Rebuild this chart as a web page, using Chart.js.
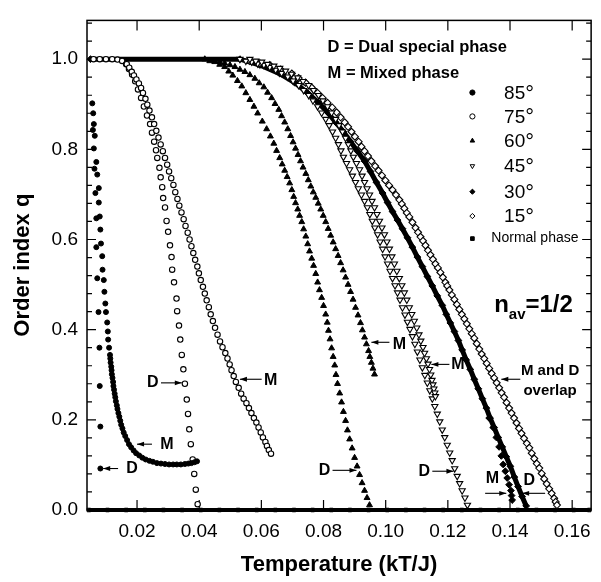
<!DOCTYPE html>
<html>
<head>
<meta charset="utf-8">
<style>
  html, body { margin: 0; padding: 0; background: #fff; }
  #grafico { display: block; }
</style>
</head>
<body>
<canvas id="grafico" width="601" height="582"></canvas>
<script src="https://cdn.jsdelivr.net/npm/chart.js@4.4.1/dist/chart.umd.min.js"></script>
<script>
// tick values
const xTicks = [0.02, 0.04, 0.06, 0.08, 0.10, 0.12, 0.14, 0.16];
const yTicks = [0.0, 0.2, 0.4, 0.6, 0.8, 1.0];
const yMinor = [0.04,0.08,0.12,0.16,0.24,0.28,0.32,0.36,0.44,0.48,0.52,0.56,0.64,0.68,0.72,0.76,0.84,0.88,0.92,0.96,1.04,1.08];

// 85 deg: scattered points, then the M branch
const t85 = [0.0056,0.0059,0.0061,0.0058,0.0064,0.0061,0.0069,0.0063,0.0072,0.0077,0.0066,0.0077,0.0080,0.0069,0.0082,0.0084,0.0069,0.0088,0.0089,0.0072,0.0093,0.0095,0.0098,0.0076,0.0100,0.0104,0.0106,0.0107,0.0079,0.0110,0.0080,0.0082,0.0082];
const q85 = [0.902,0.880,0.856,0.843,0.830,0.802,0.772,0.757,0.744,0.714,0.703,0.682,0.651,0.647,0.622,0.591,0.583,0.563,0.533,0.514,0.510,0.484,0.458,0.439,0.439,0.416,0.396,0.378,0.360,0.360,0.275,0.185,0.092];
const t85m = [0.0113,0.0114,0.0115,0.0117,0.0118,0.0119,0.0121,0.0123,0.0124,0.0126,0.0128,0.0130,0.0132,0.0135,0.0137,0.0140,0.0143,0.0146,0.0149,0.0153,0.0157,0.0162,0.0168,0.0174,0.0181,0.0189,0.0197,0.0207,0.0217,0.0228,0.0240,0.0251,0.0264,0.0277,0.0290,0.0303,0.0316,0.0328,0.0341,0.0354,0.0365,0.0375,0.0385,0.0393];
const q85m = [0.344,0.336,0.327,0.318,0.310,0.301,0.293,0.284,0.275,0.267,0.258,0.250,0.241,0.232,0.224,0.215,0.207,0.198,0.189,0.181,0.172,0.164,0.155,0.146,0.139,0.132,0.126,0.121,0.116,0.112,0.109,0.107,0.104,0.103,0.102,0.101,0.101,0.101,0.101,0.102,0.103,0.104,0.106,0.108];

// 75 deg
const t75d = [0.006,0.008,0.010,0.012,0.0137,0.0152,0.0165,0.0174,0.0184,0.0194,0.0203,0.0213,0.0222,0.0232,0.0242,0.0248,0.0255,0.0261,0.0265,0.0272,0.0276,0.0281,0.0284,0.0290,0.0295,0.0300,0.0306,0.0311,0.0313,0.0319,0.0327,0.0329,0.0335,0.0339,0.0344,0.0349,0.0354,0.0360,0.0364,0.0368,0.0373,0.0379,0.0384,0.0389,0.0395];
const q75d = [1.0,1.0,1.0,1.0,0.999,0.996,0.989,0.978,0.966,0.951,0.933,0.914,0.895,0.875,0.856,0.837,0.817,0.798,0.781,0.759,0.738,0.716,0.692,0.671,0.641,0.617,0.587,0.561,0.533,0.505,0.469,0.441,0.409,0.378,0.344,0.312,0.280,0.245,0.213,0.179,0.146,0.112,0.080,0.045,0.013];
const t75m = [0.0167,0.0175,0.0183,0.0190,0.0198,0.0206,0.0213,0.0219,0.0227,0.0233,0.0240,0.0248,0.0255,0.0262,0.0269,0.0276,0.0283,0.0290,0.0297,0.0303,0.0310,0.0317,0.0323,0.0330,0.0336,0.0343,0.0350,0.0356,0.0363,0.0369,0.0375,0.0381,0.0387,0.0394,0.0399,0.0405,0.0412,0.0418,0.0424,0.0431,0.0437,0.0444,0.0451,0.0459,0.0467,0.0475,0.0484,0.0491,0.0498,0.0504,0.0511,0.0518,0.0527,0.0535,0.0543,0.0552,0.0560,0.0568,0.0576,0.0584,0.0591,0.0598,0.0605,0.0613,0.0618,0.0624,0.0631];
const q75m = [0.989,0.981,0.972,0.964,0.955,0.946,0.936,0.925,0.912,0.899,0.886,0.871,0.856,0.841,0.826,0.811,0.796,0.781,0.766,0.751,0.736,0.721,0.705,0.690,0.675,0.660,0.645,0.630,0.615,0.600,0.585,0.570,0.555,0.540,0.525,0.510,0.495,0.480,0.465,0.450,0.434,0.419,0.404,0.389,0.374,0.361,0.348,0.336,0.323,0.310,0.297,0.284,0.271,0.258,0.247,0.237,0.226,0.215,0.204,0.194,0.183,0.172,0.161,0.151,0.142,0.133,0.125];

// 60 deg
const t60d = [0.0418,0.0434,0.0450,0.0466,0.0482,0.0495,0.0508,0.0523,0.0537,0.0550,0.0563,0.0576,0.0588,0.0603,0.0617,0.0629,0.0640,0.0649,0.0659,0.0667,0.0675,0.0683,0.0691,0.0698,0.0704,0.0710,0.0717,0.0723,0.0730,0.0736,0.0743,0.0749,0.0755,0.0762,0.0768,0.0775,0.0781,0.0787,0.0794,0.0800,0.0807,0.0812,0.0816,0.0821,0.0826,0.0831,0.0836,0.0840,0.0845,0.0852,0.0858,0.0864,0.0871,0.0877,0.0884,0.0892,0.0900,0.0908,0.0916,0.0924,0.0932,0.0940,0.0948];
const q60d = [1.0,0.996,0.994,0.988,0.983,0.973,0.964,0.952,0.940,0.925,0.910,0.895,0.880,0.862,0.845,0.829,0.813,0.797,0.781,0.767,0.753,0.739,0.725,0.710,0.695,0.681,0.667,0.653,0.639,0.623,0.607,0.590,0.574,0.558,0.542,0.524,0.505,0.488,0.471,0.453,0.434,0.416,0.398,0.379,0.359,0.340,0.321,0.300,0.280,0.259,0.239,0.218,0.198,0.177,0.157,0.137,0.116,0.097,0.078,0.060,0.043,0.027,0.011];
const t60m = [0.0450,0.0466,0.0482,0.0499,0.0515,0.0531,0.0547,0.0563,0.0579,0.0593,0.0608,0.0620,0.0633,0.0644,0.0656,0.0665,0.0675,0.0685,0.0694,0.0702,0.0710,0.0718,0.0726,0.0734,0.0743,0.0751,0.0759,0.0767,0.0775,0.0783,0.0791,0.0799,0.0807,0.0815,0.0823,0.0831,0.0839,0.0847,0.0855,0.0863,0.0871,0.0879,0.0887,0.0895,0.0903,0.0911,0.0919,0.0925,0.0932,0.0938,0.0945,0.0949,0.0954,0.0959,0.0964];
const q60m = [0.996,0.994,0.991,0.987,0.983,0.977,0.972,0.965,0.957,0.947,0.938,0.926,0.914,0.901,0.888,0.874,0.860,0.845,0.830,0.816,0.802,0.788,0.774,0.760,0.746,0.732,0.718,0.705,0.693,0.680,0.667,0.653,0.639,0.624,0.609,0.594,0.579,0.564,0.548,0.532,0.516,0.500,0.484,0.467,0.449,0.432,0.415,0.399,0.383,0.368,0.353,0.340,0.327,0.314,0.301];

// 45 deg
const t45d = [0.0531,0.0550,0.0569,0.0588,0.0608,0.0627,0.0646,0.0665,0.0685,0.0702,0.0720,0.0736,0.0752,0.0766,0.0781,0.0794,0.0807,0.0818,0.0829,0.0839,0.0848,0.0856,0.0864,0.0874,0.0884,0.0893,0.0903,0.0912,0.0922,0.0932,0.0941,0.0949,0.0957,0.0965,0.0974,0.0982,0.0990,0.0998,0.1006,0.1014,0.1022,0.1030,0.1038,0.1046,0.1054,0.1062,0.1070,0.1078,0.1086,0.1094,0.1102,0.1110,0.1118,0.1126,0.1134,0.1142,0.1150,0.1158,0.1166,0.1174,0.1182,0.1190,0.1198,0.1206,0.1214,0.1222,0.1230,0.1238,0.1246,0.1255,0.1263];
const q45d = [1.0,0.996,0.994,0.990,0.987,0.982,0.976,0.969,0.961,0.952,0.942,0.931,0.920,0.908,0.895,0.881,0.867,0.853,0.839,0.825,0.811,0.797,0.783,0.769,0.755,0.741,0.727,0.713,0.699,0.685,0.671,0.656,0.641,0.626,0.611,0.595,0.579,0.562,0.546,0.530,0.514,0.498,0.482,0.466,0.449,0.433,0.417,0.401,0.385,0.368,0.351,0.333,0.316,0.299,0.282,0.265,0.247,0.230,0.213,0.196,0.178,0.161,0.144,0.127,0.110,0.092,0.075,0.059,0.043,0.027,0.011];
const t45m = [0.0563,0.0582,0.0601,0.0620,0.0640,0.0659,0.0678,0.0697,0.0717,0.0734,0.0752,0.0768,0.0784,0.0798,0.0813,0.0826,0.0839,0.0850,0.0861,0.0871,0.0880,0.0888,0.0896,0.0906,0.0916,0.0924,0.0932,0.0940,0.0948,0.0956,0.0964,0.0972,0.0980,0.0988,0.0996,0.1004,0.1012,0.1020,0.1028,0.1036,0.1044,0.1052,0.1060,0.1068,0.1076,0.1084,0.1092,0.1100,0.1107,0.1113,0.1120,0.1125,0.1131,0.1136,0.1141,0.1145,0.1149,0.1152,0.1155,0.1158,0.1160];
const q45m = [1.0,0.996,0.994,0.989,0.985,0.980,0.974,0.967,0.959,0.951,0.942,0.931,0.920,0.908,0.895,0.881,0.867,0.853,0.839,0.825,0.811,0.797,0.783,0.769,0.755,0.741,0.727,0.713,0.699,0.685,0.671,0.656,0.641,0.626,0.611,0.595,0.579,0.562,0.546,0.530,0.514,0.498,0.482,0.466,0.449,0.434,0.419,0.404,0.389,0.375,0.361,0.348,0.336,0.324,0.312,0.300,0.288,0.278,0.269,0.260,0.252];

// 30 deg (thick band) and its M tail
const t30 = [0.0050,0.0531,0.0595,0.0659,0.0707,0.0749,0.0784,0.0813,0.0839,0.0864,0.0887,0.0909,0.0932,0.0951,0.0970,0.0990,0.1006,0.1022,0.1038,0.1054,0.1070,0.1086,0.1102,0.1118,0.1134,0.1150,0.1166,0.1182,0.1195,0.1208,0.1221,0.1234,0.1246,0.1259,0.1272,0.1285,0.1298,0.1311,0.1324,0.1336,0.1349,0.1362,0.1375,0.1388,0.1401,0.1414,0.1426,0.1439,0.1452];
const q30 = [1.0,1.0,0.987,0.968,0.948,0.925,0.903,0.882,0.860,0.839,0.817,0.796,0.774,0.751,0.727,0.703,0.682,0.662,0.643,0.624,0.604,0.583,0.561,0.540,0.518,0.497,0.475,0.454,0.434,0.415,0.396,0.376,0.355,0.333,0.312,0.290,0.269,0.247,0.226,0.204,0.183,0.161,0.140,0.118,0.097,0.073,0.052,0.030,0.009];
const t30m = [0.1333,0.1346,0.1356,0.1365,0.1372,0.1378,0.1385,0.1391,0.1397,0.1403,0.1405,0.1407];
const q30m = [0.204,0.183,0.161,0.140,0.120,0.101,0.086,0.071,0.056,0.043,0.032,0.022];

// 15 deg (M and D overlap)
const t15 = [0.0563,0.0595,0.0627,0.0662,0.0698,0.0720,0.0742,0.0762,0.0781,0.0797,0.0813,0.0828,0.0842,0.0855,0.0868,0.0879,0.0890,0.0901,0.0913,0.0922,0.0932,0.0943,0.0954,0.0966,0.0977,0.0988,0.0999,0.1011,0.1022,0.1033,0.1044,0.1052,0.1060,0.1068,0.1076,0.1086,0.1096,0.1104,0.1112,0.1120,0.1128,0.1136,0.1144,0.1152,0.1160,0.1168,0.1176,0.1184,0.1192,0.1198,0.1205,0.1213,0.1221,0.1229,0.1237,0.1245,0.1253,0.1261,0.1269,0.1277,0.1285,0.1293,0.1301,0.1309,0.1317,0.1325,0.1333,0.1341,0.1349,0.1357,0.1365,0.1373,0.1381,0.1389,0.1397,0.1405,0.1413,0.1421,0.1429,0.1437,0.1445,0.1454,0.1462,0.1470,0.1478,0.1486,0.1494,0.1502,0.1510,0.1518,0.1526,0.1534,0.1542,0.1547,0.1551];
const q15 = [0.996,0.991,0.987,0.977,0.968,0.958,0.948,0.937,0.925,0.914,0.903,0.893,0.882,0.871,0.860,0.850,0.839,0.828,0.817,0.806,0.796,0.785,0.774,0.763,0.753,0.742,0.731,0.720,0.710,0.699,0.688,0.679,0.669,0.659,0.650,0.638,0.626,0.616,0.606,0.597,0.587,0.576,0.566,0.556,0.546,0.537,0.527,0.516,0.505,0.497,0.488,0.477,0.467,0.456,0.445,0.434,0.424,0.413,0.402,0.391,0.381,0.369,0.357,0.346,0.336,0.325,0.314,0.303,0.293,0.282,0.271,0.260,0.250,0.238,0.226,0.215,0.204,0.193,0.181,0.170,0.159,0.148,0.138,0.126,0.114,0.103,0.093,0.081,0.069,0.058,0.047,0.037,0.026,0.018,0.011];

// normal phase (q = 0)
const tNormal = [0.0045,0.0105,0.0165,0.0225,0.0285,0.0345,0.0405,0.0465,0.0525,0.0585,0.0645,0.0705,0.0765,0.0825,0.0885,0.0945,0.1005,0.1065,0.1125,0.1185,0.1245,0.1305,0.1365,0.1425,0.1485,0.1545,0.1605,0.1655];
const qNormal = [0,0,0,0,0,0,0,0,0,0,0,0,0,0,0,0,0,0,0,0,0,0,0,0,0,0,0,0];

const FONT = '"Liberation Sans", Arial, sans-serif';

function pts(t, q) {
  return t.map((v, i) => ({ x: v, y: q[i] }));
}

const filled = { backgroundColor: '#000', borderColor: '#000', pointBorderWidth: 1 };
const hollow = { backgroundColor: '#fff', borderColor: '#000', pointBorderWidth: 1.1 };

function serie(label, data, style, shape, radius, extra) {
  return Object.assign({
    label: label,
    data: data,
    pointStyle: shape,
    pointRadius: radius,
    pointBackgroundColor: style.backgroundColor,
    pointBorderColor: style.borderColor,
    pointBorderWidth: style.pointBorderWidth,
    borderColor: '#000',
    backgroundColor: style.backgroundColor,
    showLine: false,
    clip: false
  }, extra || {});
}

// first dataset is drawn on top
const datasets = [
  serie('85°', pts(t85.concat(t85m), q85.concat(q85m)), filled, 'circle', 2.5),
  serie('75° M', pts(t75m, q75m), hollow, 'circle', 2.7),
  serie('75° D', pts(t75d, q75d), hollow, 'circle', 2.7),
  serie('60° M', pts(t60m, q60m), filled, 'triangle', 3.4),
  serie('60° D', pts(t60d, q60d), filled, 'triangle', 3.4),
  serie('45° M', pts(t45m, q45m), hollow, 'triangle', 3.6, { pointRotation: 180 }),
  serie('45° D', pts(t45d, q45d), hollow, 'triangle', 3.6, { pointRotation: 180 }),
  serie('15°', pts(t15, q15), hollow, 'rectRot', 3.5),
  serie('30° M', pts(t30m, q30m), filled, 'rectRot', 3.4),
  serie('30°', pts(t30, q30), filled, 'rectRot', 3.4, { showLine: true, borderWidth: 5 }),
  serie('Normal phase', pts(tNormal, qNormal), filled, 'rect', 2.5, { showLine: true, borderWidth: 4 })
];

// legend rows and text notes, placed in data units
const legendRows = [
  { text: '85', shape: 'circle', style: filled, rot: 0, q: 0.926 },
  { text: '75', shape: 'circle', style: hollow, rot: 0, q: 0.873 },
  { text: '60', shape: 'triangle', style: filled, rot: 0, q: 0.819 },
  { text: '45', shape: 'triangle', style: hollow, rot: 180, q: 0.763 },
  { text: '30', shape: 'rectRot', style: filled, rot: 0, q: 0.706 },
  { text: '15', shape: 'rectRot', style: hollow, rot: 0, q: 0.652 }
];
const notes = [
  ['M', 0.0296, 0.144], ['D', 0.0184, 0.092], ['D', 0.0251, 0.282], ['M', 0.0630, 0.286],
  ['M', 0.1044, 0.366], ['D', 0.0803, 0.088], ['M', 0.1232, 0.323], ['D', 0.1124, 0.086],
  ['M', 0.1343, 0.069], ['D', 0.1462, 0.065]
];
const arrows = [
  [0.0248, 0.146, 0.0200, 0.146], [0.0139, 0.092, 0.0091, 0.092], [0.0277, 0.282, 0.0344, 0.282],
  [0.0601, 0.290, 0.0531, 0.290], [0.1012, 0.372, 0.0954, 0.372], [0.0829, 0.088, 0.0906, 0.088],
  [0.1205, 0.323, 0.1147, 0.323], [0.1150, 0.086, 0.1218, 0.086], [0.1320, 0.037, 0.1388, 0.037],
  [0.1513, 0.037, 0.1439, 0.037], [0.1433, 0.290, 0.1372, 0.290]
];

function flecha(ctx, x1, y1, x2, y2) {
  ctx.beginPath();
  ctx.moveTo(x1, y1);
  ctx.lineTo(x2, y2);
  ctx.stroke();
  const a = Math.atan2(y2 - y1, x2 - x1);
  const L = 7, W = 2.4;
  ctx.beginPath();
  ctx.moveTo(x2, y2);
  ctx.lineTo(x2 - L * Math.cos(a) + W * Math.sin(a), y2 - L * Math.sin(a) - W * Math.cos(a));
  ctx.lineTo(x2 - L * Math.cos(a) - W * Math.sin(a), y2 - L * Math.sin(a) + W * Math.cos(a));
  ctx.closePath();
  ctx.fill();
}

function marca(ctx, shape, style, rot, x, y) {
  ctx.save();
  ctx.fillStyle = style.backgroundColor;
  ctx.strokeStyle = style.borderColor;
  ctx.lineWidth = 1;
  Chart.helpers.drawPoint(ctx, { pointStyle: shape, radius: 2.6, rotation: rot, borderWidth: 1 }, x, y);
  ctx.restore();
}

const frame = {
  id: 'frame',
  beforeDatasetsDraw(chart) {
    const { ctx, chartArea: a, scales: { x, y } } = chart;
    ctx.save();
    ctx.strokeStyle = '#000';
    ctx.lineWidth = 1.5;
    ctx.strokeRect(a.left, a.top, a.right - a.left, a.bottom - a.top);
    ctx.lineWidth = 1.2;
    ctx.beginPath();
    yMinor.forEach(v => {
      const p = y.getPixelForValue(v);
      ctx.moveTo(a.left, p); ctx.lineTo(a.left + 5, p);
      ctx.moveTo(a.right, p); ctx.lineTo(a.right - 5, p);
    });
    yTicks.forEach(v => {
      const p = y.getPixelForValue(v);
      ctx.moveTo(a.left, p); ctx.lineTo(a.left + 9, p);
      ctx.moveTo(a.right, p); ctx.lineTo(a.right - 9, p);
    });
    xTicks.forEach(v => {
      const p = x.getPixelForValue(v);
      ctx.moveTo(p, a.bottom); ctx.lineTo(p, a.bottom - 10);
      ctx.moveTo(p, a.top); ctx.lineTo(p, a.top + 10);
    });
    ctx.stroke();
    ctx.restore();
  },
  afterDatasetsDraw(chart) {
    const { ctx, scales: { x, y } } = chart;
    ctx.save();
    ctx.fillStyle = '#000';
    ctx.strokeStyle = '#000';
    ctx.textBaseline = 'middle';

    // header lines
    ctx.font = 'bold 16.5px ' + FONT;
    ctx.textAlign = 'left';
    ctx.fillText('D = Dual special phase', x.getPixelForValue(0.0813), y.getPixelForValue(1.026));
    ctx.fillText('M = Mixed phase', x.getPixelForValue(0.0813), y.getPixelForValue(0.968));

    // legend
    const sx = x.getPixelForValue(0.1279);
    const lx = x.getPixelForValue(0.1381);
    legendRows.forEach(r => {
      const py = y.getPixelForValue(r.q);
      marca(ctx, r.shape, r.style, r.rot, sx, py);
      ctx.font = '19px ' + FONT;
      ctx.fillStyle = '#000';
      ctx.fillText(r.text, lx, py + 1);
      const w = ctx.measureText(r.text).width;
      ctx.font = '22px ' + FONT;
      ctx.fillText('°', lx + w, py + 2);
    });
    const ny = y.getPixelForValue(0.602);
    marca(ctx, 'rect', filled, 0, sx, ny);
    ctx.font = '14px ' + FONT;
    ctx.fillText('Normal phase', x.getPixelForValue(0.1340), ny);

    // n_av = 1/2
    ctx.textBaseline = 'alphabetic';
    let nx = x.getPixelForValue(0.1349);
    const nb = y.getPixelForValue(0.439);
    ctx.font = 'bold 24px ' + FONT;
    ctx.fillText('n', nx, nb);
    nx += ctx.measureText('n').width;
    ctx.font = 'bold 15px ' + FONT;
    ctx.fillText('av', nx, nb + 7);
    nx += ctx.measureText('av').width;
    ctx.font = 'bold 24px ' + FONT;
    ctx.fillText('=1/2', nx, nb);

    // M / D notes with arrows
    ctx.textBaseline = 'middle';
    ctx.textAlign = 'center';
    ctx.font = 'bold 16px ' + FONT;
    notes.forEach(n => ctx.fillText(n[0], x.getPixelForValue(n[1]), y.getPixelForValue(n[2])));
    ctx.font = 'bold 15px ' + FONT;
    ctx.fillText('M and D', x.getPixelForValue(0.1529), y.getPixelForValue(0.308));
    ctx.fillText('overlap', x.getPixelForValue(0.1529), y.getPixelForValue(0.265));
    ctx.lineWidth = 1.1;
    arrows.forEach(f => flecha(ctx, x.getPixelForValue(f[0]), y.getPixelForValue(f[1]),
                                  x.getPixelForValue(f[2]), y.getPixelForValue(f[3])));
    ctx.restore();
  }
};

const ctx = document.getElementById('grafico').getContext('2d');
const grafico = new Chart(ctx, {
  type: 'scatter',
  data: { datasets: datasets },
  plugins: [frame],
  options: {
    responsive: false,
    animation: false,
    devicePixelRatio: 1,
    events: [],
    layout: { padding: { top: 5, right: 9, left: 0, bottom: 0 } },
    plugins: { legend: { display: false }, tooltip: { enabled: false } },
    scales: {
      x: {
        type: 'linear',
        min: 0.0039,
        max: 0.1661,
        afterBuildTicks: s => { s.ticks = xTicks.map(v => ({ value: v })); },
        afterFit: s => { s.height = 72; },
        grid: { display: false, drawTicks: false },
        border: { display: false },
        ticks: {
          color: '#000',
          font: { family: FONT, size: 19 },
          padding: 10,
          maxRotation: 0,
          autoSkip: false,
          callback: v => v.toFixed(2)
        },
        title: {
          display: true,
          text: 'Temperature (kT/J)',
          color: '#000',
          font: { family: FONT, size: 22, weight: 'bold' },
          padding: { top: 0, bottom: 4 }
        }
      },
      y: {
        type: 'linear',
        min: 0,
        max: 1.086,
        afterBuildTicks: s => { s.ticks = yTicks.map(v => ({ value: v })); },
        afterFit: s => { s.width = 87; },
        grid: { display: false, drawTicks: false },
        border: { display: false },
        ticks: {
          color: '#000',
          font: { family: FONT, size: 19 },
          padding: 9,
          callback: v => v.toFixed(1)
        },
        title: {
          display: true,
          text: 'Order index q',
          color: '#000',
          font: { family: FONT, size: 22, weight: 'bold' },
          padding: { top: 10, bottom: 0 }
        }
      }
    }
  }
});
</script>
</body>
</html>
